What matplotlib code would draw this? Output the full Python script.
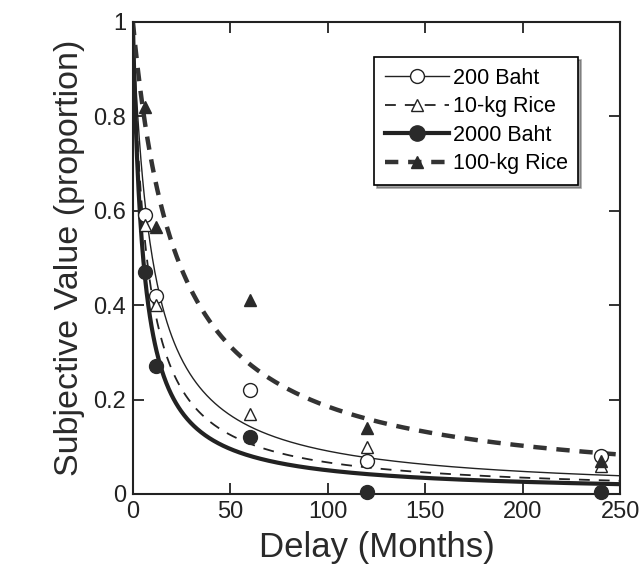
import numpy as np
import matplotlib
matplotlib.use("Agg")
import matplotlib.pyplot as plt

plt.rcParams['font.family'] = ['Liberation Sans', 'DejaVu Sans']

# delays in months
delays = [6, 12, 60, 120, 240]

# observed subjective values
baht200 = [0.59, 0.42, 0.22, 0.07, 0.08]
rice10 = [0.57, 0.40, 0.17, 0.10, 0.06]
baht2000 = [0.47, 0.27, 0.12, 0.005, 0.005]
rice100 = [0.82, 0.565, 0.41, 0.14, 0.07]

# fitted hyperbola discount rates, V = 1/(1+kD)
k_values = {"200 Baht": 0.1, "10-kg Rice": 0.14, "2000 Baht": 0.19, "100-kg Rice": 0.044}

fig = plt.figure(figsize=(6.42, 5.77), dpi=100)
ax = fig.add_axes([0.207, 0.144, 0.759, 0.818])

d = np.linspace(0, 250, 600)

ax.plot(d, 1 / (1 + k_values["200 Baht"] * d), color='#222222', lw=1.0)
ax.plot(d, 1 / (1 + k_values["10-kg Rice"] * d), color='#222222', lw=1.3, dashes=(6, 5))
ax.plot(d, 1 / (1 + k_values["2000 Baht"] * d), color='#222222', lw=3.0)
ax.plot(d, 1 / (1 + k_values["100-kg Rice"] * d), color='#333333', lw=3.2, dashes=(3, 2.2))

ax.plot(delays, baht200, 'o', ms=10, mfc='white', mec='#222222', mew=1.0, clip_on=False, zorder=5)
ax.plot(delays, rice10, '^', ms=9, mfc='white', mec='#222222', mew=1.0, clip_on=False, zorder=5)
ax.plot(delays, baht2000, 'o', ms=10, mfc='#2a2a2a', mec='#2a2a2a', clip_on=False, zorder=5)
ax.plot(delays, rice100, '^', ms=9, mfc='#2a2a2a', mec='#2a2a2a', clip_on=False, zorder=5)

# legend handles
h1, = ax.plot([], [], color='#222222', lw=1.0, marker='o', ms=10, mfc='white', mec='#222222')
h2, = ax.plot([], [], color='#222222', lw=1.3, dashes=(6, 5), marker='^', ms=9, mfc='white', mec='#222222')
h3, = ax.plot([], [], color='#222222', lw=3.0, marker='o', ms=11, mfc='#2a2a2a', mec='#2a2a2a')
h4, = ax.plot([], [], color='#333333', lw=3.2, dashes=(3, 2.2), marker='^', ms=9, mfc='#2a2a2a', mec='#2a2a2a')
leg = ax.legend([h1, h2, h3, h4], ["200 Baht", "10-kg Rice", "2000 Baht", "100-kg Rice"],
                loc='upper right', bbox_to_anchor=(0.914, 0.926), fontsize=15.5, frameon=True,
                fancybox=False, shadow=True, handlelength=3.0, handletextpad=0.15,
                borderpad=0.5, labelspacing=0.35, borderaxespad=0)
leg.get_frame().set_edgecolor('black')
leg.get_frame().set_linewidth(1.2)

ax.set_xlim(0, 250)
ax.set_ylim(0, 1)
ax.set_xticks([0, 50, 100, 150, 200, 250])
ax.set_yticks([0, 0.2, 0.4, 0.6, 0.8, 1])
ax.set_yticklabels(['0', '0.2', '0.4', '0.6', '0.8', '1'])
ax.tick_params(direction='in', length=8, width=1.3, top=True, right=True, labelsize=17,
               colors='#222222', pad=5)
for s in ax.spines.values():
    s.set_linewidth(1.5)
    s.set_color('#222222')

ax.set_xlabel("Delay (Months)", fontsize=25, color='#2a2a2a', labelpad=6)
ax.set_ylabel("Subjective Value (proportion)", fontsize=24.5, color='#2a2a2a', labelpad=6)

fig.savefig('out.png', dpi=100)
